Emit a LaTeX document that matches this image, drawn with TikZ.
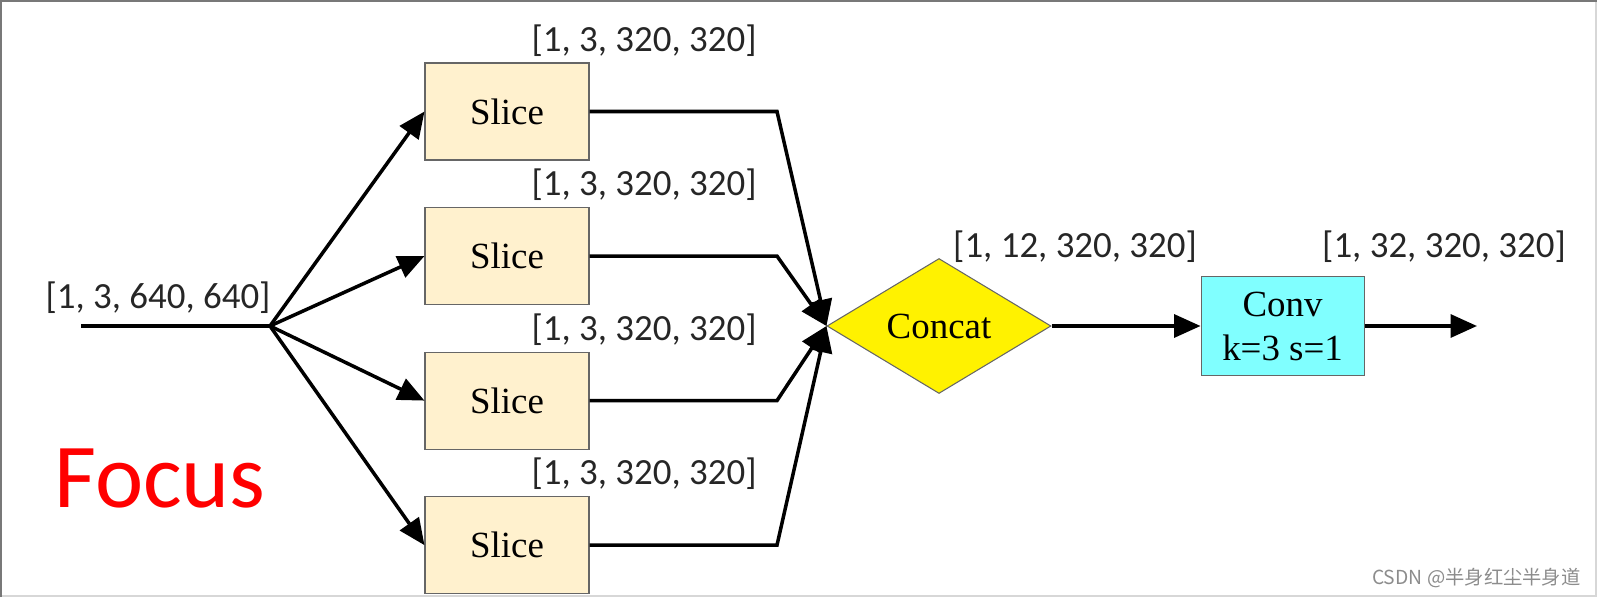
\documentclass[tikz,border=0pt]{standalone}
\usepackage{fontspec}
\setmainfont{Liberation Serif}
\newfontfamily\lblfont{Carlito}
\newfontfamily\cjkfont{Noto Sans CJK SC}
\usetikzlibrary{positioning, arrows.meta, shapes.geometric, calc}
\definecolor{slicefill}{RGB}{255,241,206}
\definecolor{convfill}{RGB}{128,255,255}
\definecolor{framedark}{RGB}{120,120,120}
\definecolor{framelight}{RGB}{215,215,215}

\begin{document}
\begin{tikzpicture}[
  slicebox/.style={draw=black!60, fill=slicefill, line width=0.6pt, minimum width=3.28cm,
                   minimum height=1.94cm, inner sep=0pt, font=\fontsize{21}{25}\selectfont},
  convbox/.style={draw=black!60, fill=convfill, line width=0.6pt, minimum width=3.26cm,
                  minimum height=1.98cm, inner sep=0pt, align=center, font=\fontsize{21}{25}\selectfont},
  catnode/.style={diamond, draw=black!60, fill=yellow, line width=0.6pt, minimum width=4.48cm,
                  minimum height=2.7cm, inner sep=0pt, font=\fontsize{21}{25}\selectfont},
  arr/.style={-{Triangle[length=15pt, width=13pt]}, line width=2pt},
  wire/.style={line width=2pt},
  lbl/.style={font=\lblfont\fontsize{21}{24}\selectfont, text=black!85, inner sep=0pt},
  focuslbl/.style={font=\lblfont\fontsize{52}{60}\selectfont, text=red, inner sep=0pt},
  marklbl/.style={font=\cjkfont\fontsize{11}{13}\selectfont, text=black!45, inner sep=0pt}
]
  \useasboundingbox (0,0) rectangle (31.94,11.94);

  % Frame
  \draw[framelight, line width=0.6pt] (0,0.02) -- (31.92,0.02) -- (31.92,11.94);
  \draw[framedark, line width=0.8pt] (0.02,0) -- (0.02,11.92) -- (31.94,11.92);

  % Input
  \coordinate (in) at (1.62,5.42);
  \coordinate (split) at (5.40,5.42);
  \node[lbl] (inlbl) at (3.16,5.98) {[1, 3, 640, 640]};

  % Slice nodes
  \node[slicebox] (s1) at (10.14,9.71) {Slice};
  \node[slicebox, below=0.93cm of s1] (s2) {Slice};
  \node[slicebox, below=0.93cm of s2] (s3) {Slice};
  \node[slicebox, below=0.93cm of s3] (s4) {Slice};

  \foreach \s in {s1,s2,s3,s4}
    \node[lbl] (\s lbl) at ([xshift=2.74cm, yshift=0.44cm]\s.north) {[1, 3, 320, 320]};

  % Concat and Conv
  \node[catnode] (cat) at (18.78,5.42) {Concat};
  \node[lbl] (catlbl) at (21.5,7.0) {[1, 12, 320, 320]};
  \node[convbox, right=2.98cm of cat] (conv) {Conv\\k=3 s=1};
  \node[lbl] (convlbl) at (28.88,7.0) {[1, 32, 320, 320]};
  \coordinate (out) at (29.54,5.42);

  % Arrows from input to slices
  \draw[wire] (in) -- (split);
  \foreach \s in {s1,s2,s3,s4}
    \draw[arr] (split) -- (\s.west);

  % Arrows from slices to concat
  \coordinate (bend) at (15.54,0);
  \foreach \s in {s1,s2,s3,s4}
    \draw[arr] (\s.east) -- (\s.east -| bend) -- (cat.west);

  % Arrows to output
  \draw[arr] (cat.east) -- (conv.west);
  \draw[arr] (conv.east) -- (out);

  % Titles
  \node[focuslbl] (focus) at (3.2,2.36) {Focus};
  \node[marklbl, anchor=east] (mark) at (31.62,0.38) {CSDN @半身红尘半身道};

\end{tikzpicture}
\end{document}
